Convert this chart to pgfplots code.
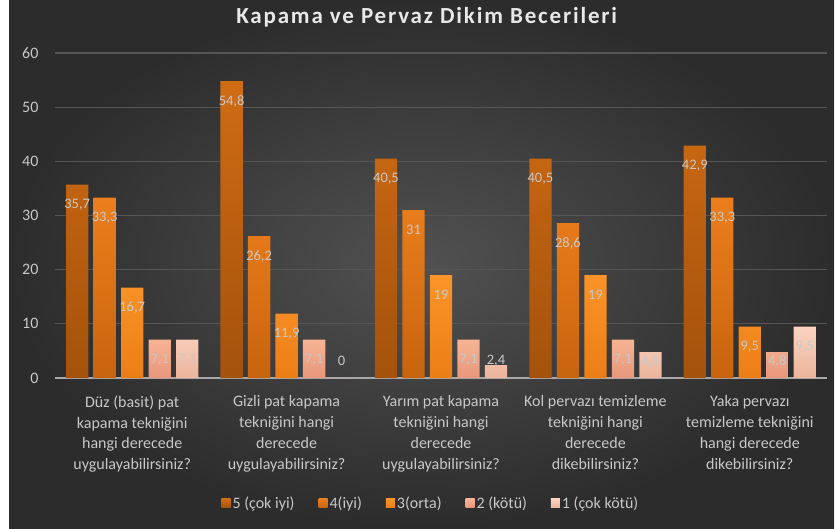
\documentclass[border=0pt]{standalone}
\usepackage{fontspec}
\setmainfont{Carlito}
\newfontfamily\titlefont[LetterSpace=8]{Carlito}
\usepackage{pgfplots}
\pgfplotsset{compat=1.18}
\definecolor{bgin}{HTML}{515151}
\definecolor{bgout}{HTML}{2C2C2C}
\definecolor{gridc}{HTML}{565656}
\definecolor{axisc}{HTML}{A8A8A8}
\definecolor{labc}{HTML}{C8C8C8}
\definecolor{titc}{HTML}{E8E8E8}
\definecolor{sAtop}{HTML}{D06C14}\definecolor{sAbot}{HTML}{A4520C}
\definecolor{sBtop}{HTML}{EC7E1C}\definecolor{sBbot}{HTML}{C8640E}
\definecolor{sCtop}{HTML}{FA9428}\definecolor{sCbot}{HTML}{EC7E16}
\definecolor{sDtop}{HTML}{F6B494}\definecolor{sDbot}{HTML}{E8967A}
\definecolor{sEtop}{HTML}{FAD4C0}\definecolor{sEbot}{HTML}{ECB49C}
\begin{document}
\begin{tikzpicture}[x=1pt,y=1pt]
\fill[white] (0,0) rectangle (835,528);
\shade[inner color=bgin, outer color=bgout] (9,0) rectangle (834,528);
\path[use as bounding box] (0,0) rectangle (835,528);
\begin{axis}[
  at={(55pt,150pt)}, anchor=south west,
  scale only axis, width=772pt, height=325pt,
  ymin=0, ymax=60, ytick={0,10,...,60},
  xmin=-0.5, xmax=4.5, xtick={0,1,2,3,4},
  xticklabels={{Düz (basit) pat\\kapama tekniğini\\hangi derecede\\uygulayabilirsiniz?},
               {Gizli pat kapama\\tekniğini hangi\\derecede\\uygulayabilirsiniz?},
               {Yarım pat kapama\\tekniğini hangi\\derecede\\uygulayabilirsiniz?},
               {Kol pervazı temizleme\\tekniğini hangi\\derecede\\dikebilirsiniz?},
               {Yaka pervazı\\temizleme tekniğini\\hangi derecede\\dikebilirsiniz?}},
  xticklabel style={align=center, font=\fontsize{16}{20.8}\selectfont, text=labc, yshift=-14pt},
  yticklabel style={font=\fontsize{16}{19}\selectfont, text=labc, xshift=-13pt},
  /pgf/number format/assume math mode=true,
  major tick length=0pt,
  axis x line*=bottom, axis y line*=left,
  y axis line style={draw=none},
  x axis line style={draw=axisc, line width=2pt, -},
  ymajorgrids, grid style={draw=gridc, line width=1.1pt},
  ybar=5.2pt, bar width=22.3pt,
  visualization depends on=rawy \as \rawy,
  nodes near coords={\pgfmathprintnumber[use comma]{\pgfplotspointmeta}},
  every node near coord/.append style={anchor=center, font=\fontsize{14.5}{17}\selectfont, text=labc,
      yshift={max(-20,17-\rawy*5.41667)}},
  title={\titlefont\bfseries Kapama ve Pervaz Dikim Becerileri},
  title style={at={(0.4815,1.092)}, anchor=center, font=\fontsize{23}{27}\selectfont, text=titc},
  legend columns=5,
  legend style={at={(0.487,-0.385)}, anchor=center, draw=none, fill=none, text=labc,
     font=\fontsize{16}{19}\selectfont,
     /tikz/every even column/.append style={column sep=22pt}},
  legend image code/.code={\path[#1, draw=none] (0pt,-4.5pt) rectangle (9pt,4.5pt);},
]
\addplot[draw=none, top color=sAtop, bottom color=sAbot] coordinates {(0,35.7) (1,54.8) (2,40.5) (3,40.5) (4,42.9)};
\addplot[draw=none, top color=sBtop, bottom color=sBbot] coordinates {(0,33.3) (1,26.2) (2,31) (3,28.6) (4,33.3)};
\addplot[draw=none, top color=sCtop, bottom color=sCbot] coordinates {(0,16.7) (1,11.9) (2,19) (3,19) (4,9.5)};
\addplot[draw=none, top color=sDtop, bottom color=sDbot] coordinates {(0,7.1) (1,7.1) (2,7.1) (3,7.1) (4,4.8)};
\addplot[draw=none, top color=sEtop, bottom color=sEbot] coordinates {(0,7.1) (1,0) (2,2.4) (3,4.8) (4,9.5)};
\legend{5 (çok iyi), 4(iyi), 3(orta), 2 (kötü), 1 (çok kötü)}
\end{axis}
\end{tikzpicture}
\end{document}
